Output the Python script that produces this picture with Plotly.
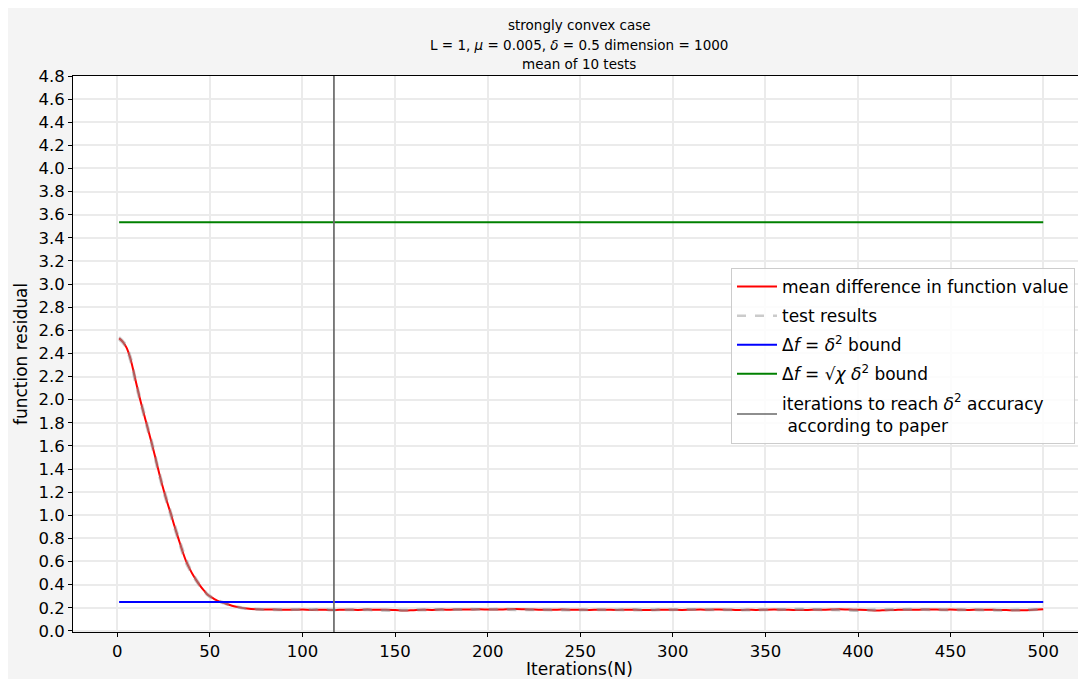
import plotly.graph_objects as go

# ---------------- data ----------------
mean_iterations = ([1, 3, 5, 7, 9, 11, 13, 15, 17, 19, 21, 23, 25, 27, 29, 31, 33, 35, 37, 39,
                    41, 43, 45, 47, 49, 51, 53, 55, 57, 60, 63, 66, 70, 75, 80, 85]
                   + list(range(90, 501, 5)))
mean_residual = [2.53, 2.50, 2.45, 2.36, 2.23, 2.09, 1.96, 1.84, 1.72, 1.60,
                 1.47, 1.34, 1.22, 1.11, 1.01, 0.90, 0.80, 0.70, 0.61, 0.54,
                 0.48, 0.43, 0.385, 0.345, 0.31, 0.29, 0.27, 0.255, 0.245, 0.228,
                 0.213, 0.203, 0.193, 0.187, 0.185, 0.184,
                 # 90 .. 500 step 5
                 0.183, 0.182, 0.184, 0.181, 0.183, 0.180, 0.182, 0.183, 0.181, 0.184,
                 0.182, 0.183, 0.180, 0.176, 0.179, 0.182, 0.181, 0.184, 0.183, 0.185,
                 0.184, 0.186, 0.185, 0.184, 0.186, 0.188, 0.186, 0.184, 0.183, 0.182,
                 0.184, 0.183, 0.182, 0.181, 0.183, 0.182, 0.181, 0.183, 0.182, 0.180,
                 0.181, 0.183, 0.182, 0.181, 0.183, 0.184, 0.183, 0.185, 0.183, 0.180,
                 0.182, 0.181, 0.183, 0.184, 0.182, 0.181, 0.180, 0.182, 0.183, 0.184,
                 0.186, 0.184, 0.183, 0.181, 0.176, 0.179, 0.181, 0.183, 0.182, 0.184,
                 0.185, 0.183, 0.184, 0.182, 0.181, 0.183, 0.182, 0.181, 0.180, 0.178,
                 0.179, 0.183, 0.186]

test_iterations = ([1, 4, 7, 10, 13, 16, 19, 22, 25, 28, 31, 34, 37, 40, 43, 46, 49, 52, 55, 58,
                    62, 66, 70, 75, 80] + list(range(90, 501, 10)))
test_a = [2.54, 2.49, 2.38, 2.17, 1.98, 1.80, 1.62, 1.42, 1.24, 1.08,
          0.92, 0.77, 0.63, 0.52, 0.44, 0.372, 0.318, 0.285, 0.26, 0.243,
          0.222, 0.206, 0.195, 0.19, 0.186,
          0.186, 0.184, 0.187, 0.183, 0.185, 0.182, 0.179, 0.183, 0.187, 0.185,
          0.188, 0.187, 0.189, 0.186, 0.184, 0.185, 0.182, 0.184, 0.183, 0.186,
          0.184, 0.185, 0.187, 0.186, 0.183, 0.182, 0.185, 0.187, 0.189, 0.186,
          0.184, 0.180, 0.184, 0.186, 0.188, 0.186, 0.184, 0.185, 0.183, 0.181,
          0.184, 0.188]
test_b = [2.52, 2.47, 2.34, 2.13, 1.94, 1.76, 1.58, 1.38, 1.20, 1.04,
          0.88, 0.73, 0.59, 0.50, 0.42, 0.358, 0.303, 0.275, 0.25, 0.236,
          0.214, 0.200, 0.190, 0.184, 0.182,
          0.180, 0.183, 0.180, 0.179, 0.181, 0.178, 0.174, 0.177, 0.179, 0.182,
          0.183, 0.185, 0.182, 0.181, 0.180, 0.178, 0.179, 0.181, 0.180, 0.178,
          0.179, 0.181, 0.182, 0.181, 0.180, 0.178, 0.180, 0.182, 0.184, 0.181,
          0.179, 0.173, 0.179, 0.181, 0.182, 0.181, 0.178, 0.180, 0.177, 0.175,
          0.178, 0.183]
test_series = [test_a, test_b]

bound_iterations = [1, 500]
delta_sq_bound = 0.25            # delta^2
sqrt_chi_bound = 3.5355          # sqrt(chi) * delta^2
paper_iterations = 117

x_ticks = [0, 50, 100, 150, 200, 250, 300, 350, 400, 450, 500]
y_ticks = [0.0, 0.2, 0.4, 0.6, 0.8, 1.0, 1.2, 1.4, 1.6, 1.8, 2.0, 2.2, 2.4, 2.6, 2.8,
           3.0, 3.2, 3.4, 3.6, 3.8, 4.0, 4.2, 4.4, 4.6, 4.8]
y_limits = [-0.01, 4.8]
x_limits = [-23.9, 523.1]

title_lines = ["strongly convex case",
               "L = 1, <i>μ</i> = 0.005, <i>δ</i> = 0.5 dimension = 1000",
               "mean of 10 tests"]

FONT = "DejaVu Sans"
W, H = 1078, 671
ML, MR, MT, MB = 65, 0, 68, 47
PW, PH = W - ML - MR, H - MT - MB


def px_x(px):
    return (px - ML) / PW


def px_y(py):
    return (H - MB - py) / PH


fig = go.Figure()

fig.add_trace(go.Scatter(
    x=mean_iterations, y=mean_residual, mode="lines", line_shape="spline",
    line=dict(color="red", width=2),
    name="mean difference in function value", legendgroup="g1"))

for i, ts in enumerate(test_series):
    fig.add_trace(go.Scatter(
        x=test_iterations, y=ts, mode="lines", line_shape="spline",
        line=dict(color="rgba(140,140,140,0.45)", width=2.5, dash="dash"),
        name="test results", legendgroup="g2", showlegend=(i == 0)))

fig.add_trace(go.Scatter(
    x=bound_iterations, y=[delta_sq_bound] * len(bound_iterations), mode="lines",
    line=dict(color="blue", width=2),
    name="Δ<i>f</i> = <i>δ</i><sup>2</sup> bound", legendgroup="g3"))

fig.add_trace(go.Scatter(
    x=bound_iterations, y=[sqrt_chi_bound] * len(bound_iterations), mode="lines",
    line=dict(color="green", width=2),
    name="Δ<i>f</i> = √<i>χ</i> <i>δ</i><sup>2</sup> bound", legendgroup="g4"))

fig.add_trace(go.Scatter(
    x=[paper_iterations, paper_iterations], y=y_limits, mode="lines",
    line=dict(color="rgb(105,105,105)", width=1.7),
    name="iterations to reach <i>δ</i><sup>2</sup> accuracy<br> according to paper",
    legendgroup="g5"))

annotations = []
for line, py in zip(title_lines, [17, 37, 55.5]):
    annotations.append(dict(
        text=line, xref="paper", yref="paper", x=px_x(571), y=px_y(py),
        xanchor="center", yanchor="middle", showarrow=False,
        font=dict(family=FONT, size=13.5, color="black")))

fig.update_layout(
    width=W, height=H,
    margin=dict(l=ML, r=MR, t=MT, b=MB, pad=0),
    paper_bgcolor="rgb(244,244,244)",
    plot_bgcolor="white",
    font=dict(family=FONT, size=16, color="black"),
    showlegend=True,
    legend=dict(
        x=px_x(723), y=px_y(260), xanchor="left", yanchor="top",
        bgcolor="rgba(255,255,255,0.85)", bordercolor="#cccccc", borderwidth=1,
        font=dict(family=FONT, size=17, color="black"),
        tracegroupgap=4, itemwidth=40),
    annotations=annotations,
)

fig.update_xaxes(
    range=x_limits, tickmode="array", tickvals=x_ticks,
    ticks="outside", ticklen=4, tickwidth=1, tickcolor="black",
    showline=True, linecolor="black", linewidth=1, mirror=True,
    showgrid=True, gridcolor="rgb(235,235,235)", gridwidth=1.5,
    zeroline=False, tickfont=dict(size=16.5),
    title=dict(text="Iterations(N)", font=dict(size=17), standoff=0))

fig.update_yaxes(
    range=y_limits, tickmode="array", tickvals=y_ticks, tickformat=".1f",
    ticks="outside", ticklen=4, tickwidth=1, tickcolor="black",
    showline=True, linecolor="black", linewidth=1, mirror=False,
    showgrid=True, gridcolor="rgb(235,235,235)", gridwidth=1.5,
    zeroline=False, tickfont=dict(size=16.5),
    title=dict(text="function residual", font=dict(size=17), standoff=6))

fig.write_html("out.html")
